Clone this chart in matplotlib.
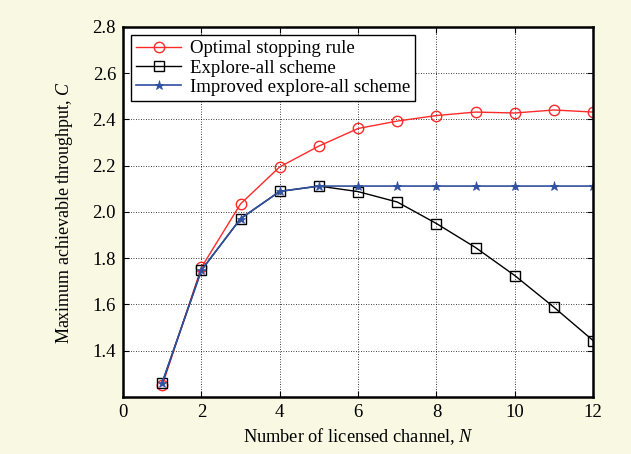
import matplotlib
matplotlib.use("Agg")
import matplotlib.pyplot as plt

N = [1, 2, 3, 4, 5, 6, 7, 8, 9, 10, 11, 12]
optimal = [1.250, 1.760, 2.035, 2.195, 2.285, 2.361, 2.393, 2.417, 2.432, 2.428, 2.441, 2.432]
explore_all = [1.262, 1.748, 1.971, 2.089, 2.112, 2.088, 2.043, 1.950, 1.846, 1.725, 1.588, 1.444]
improved = [1.262, 1.748, 1.971, 2.089, 2.112, 2.112, 2.112, 2.112, 2.112, 2.112, 2.112, 2.112]
xticks = [0, 2, 4, 6, 8, 10, 12]
yticks = [1.4, 1.6, 1.8, 2.0, 2.2, 2.4, 2.6, 2.8]

plt.rcParams['font.family'] = ['Liberation Serif', 'DejaVu Serif']
plt.rcParams['mathtext.fontset'] = 'custom'
plt.rcParams['mathtext.it'] = 'Liberation Serif:italic'
plt.rcParams['mathtext.rm'] = 'Liberation Serif'

fs = 13.5
bg = '#F9F8E3'
fig = plt.figure(figsize=(6.31, 4.54), dpi=100, facecolor=bg)
ax = fig.add_axes([0.195, 0.1256, 0.745, 0.815])
ax.set_facecolor('white')

ax.plot(N, optimal, color='#FF2A2A', lw=1.0, marker='o', ms=7.5, mfc='none', mec='#FF2A2A', mew=1.0,
        label='Optimal stopping rule')
ax.plot(N, explore_all, color='black', lw=1.0, marker='s', ms=7.5, mfc='none', mec='black', mew=1.0,
        label='Explore-all scheme')
ax.plot(N, improved, color='#3050A0', lw=1.2, marker='*', ms=6.5, mfc='#3050A0', mec='#3050A0', mew=0.5,
        label='Improved explore-all scheme')

ax.set_xlim(0, 12)
ax.set_ylim(1.2, 2.8)
ax.set_xticks(xticks)
ax.set_yticks(yticks)
ax.set_yticklabels([f'{v:.1f}' for v in yticks])
ax.tick_params(direction='in', top=True, right=True, labelsize=fs, length=4, width=0.8, pad=5)
ax.grid(True, color='black', linestyle=(0, (1, 2)), linewidth=0.6)
for s in ax.spines.values():
    s.set_linewidth(1.8)

ax.set_xlabel('Number of licensed channel, $N$', fontsize=13.2, labelpad=4)
ax.set_ylabel('Maximum achievable throughput, $C$', fontsize=13.0, labelpad=13)

leg = ax.legend(loc='upper left', fontsize=fs, frameon=True, fancybox=False, edgecolor='black',
                framealpha=1, borderpad=0.25, labelspacing=0.12, handlelength=2.4, handletextpad=0.45,
                borderaxespad=0.45)
leg.get_frame().set_linewidth(1.0)

fig.savefig('out.png', dpi=100, facecolor=bg)
